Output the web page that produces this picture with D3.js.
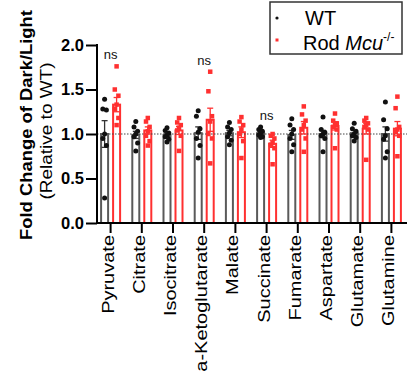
<!DOCTYPE html>
<html>
<head>
<meta charset="utf-8">
<script src="https://cdn.jsdelivr.net/npm/d3@7"></script>
<style>
  html, body { margin: 0; padding: 0; background: #fff; }
  svg { display: block; font-family: "Liberation Sans", Arial, sans-serif; }
</style>
</head>
<body>
<svg id="chart" width="409" height="375"></svg>
<script>
// ---------- data ----------
const categories = ["Pyruvate","Citrate","Isocitrate","a-Ketoglutarate","Malate","Succinate","Fumarate","Aspartate","Glutamate","Glutamine"];
const yTicks = [0, 0.5, 1.0, 1.5, 2.0];

const wtMean = [1.00, 0.99, 0.99, 1.01, 1.01, 1.01, 0.99, 1.00, 1.01, 1.00];
const wtSem  = [0.15, 0.04, 0.02, 0.07, 0.03, 0.02, 0.05, 0.04, 0.03, 0.08];
const wtPoints = [
  [1.39, 1.28, 1.27, 1.00, 0.95, 0.87, 0.28],
  [1.14, 1.08, 1.03, 1.00, 0.97, 0.90, 0.81],
  [1.07, 1.04, 1.01, 0.99, 0.97, 0.94, 0.91],
  [1.26, 1.20, 1.06, 1.02, 0.95, 0.87, 0.73],
  [1.13, 1.08, 1.05, 1.01, 0.97, 0.93, 0.88],
  [1.08, 1.05, 1.03, 1.01, 0.99, 0.97, 0.96],
  [1.17, 1.10, 1.05, 1.00, 0.95, 0.88, 0.80],
  [1.19, 1.05, 1.02, 1.00, 0.98, 0.95, 0.80],
  [1.12, 1.06, 1.03, 1.00, 0.98, 0.96, 0.92],
  [1.36, 1.16, 1.06, 0.98, 0.94, 0.80, 0.73]
];

const koMean = [1.33, 1.04, 1.04, 1.16, 1.02, 0.89, 1.07, 1.09, 1.06, 1.06];
const koSem  = [0.08, 0.04, 0.045, 0.13, 0.06, 0.04, 0.07, 0.045, 0.06, 0.08];
const koPoints = [
  [1.76, 1.50, 1.43, 1.33, 1.28, 1.18, 1.10],
  [1.18, 1.14, 1.08, 1.03, 0.98, 0.92, 0.87],
  [1.18, 1.13, 1.10, 1.07, 1.04, 0.98, 0.81],
  [1.70, 1.48, 1.20, 1.14, 1.00, 0.95, 0.67],
  [1.19, 1.14, 1.10, 1.05, 1.00, 0.92, 0.73],
  [1.00, 0.98, 0.95, 0.90, 0.88, 0.84, 0.66],
  [1.31, 1.22, 1.15, 1.10, 1.05, 0.95, 0.80],
  [1.23, 1.15, 1.12, 1.10, 1.08, 1.05, 0.84],
  [1.18, 1.15, 1.12, 1.10, 1.08, 1.05, 0.71],
  [1.42, 1.29, 1.08, 1.05, 1.02, 0.98, 0.75]
];

const nsCategories = ["Pyruvate", "a-Ketoglutarate", "Succinate"];
const legendLabels = ["WT", "Rod "];

// ---------- layout ----------
const svg = d3.select("#chart");
const FONT = '"Liberation Sans", Arial, sans-serif';
const wtColor = "#5a5a5a";
const koColor = "#ff3030";

const x = d3.scaleBand().domain(categories).range([95, 407]).padding(0);
const y = d3.scaleLinear().domain([0, 2]).range([223, 45]);
const axisLeftX = 97;
const barW = 7;
const offset = 6;

const g = svg.append("g");

// bars
function drawGroup(means, dx, color) {
  const grp = g.append("g");
  grp.selectAll("rect").data(categories).join("rect")
    .attr("x", d => x(d) + x.bandwidth() / 2 + dx - barW / 2)
    .attr("y", (d, i) => y(means[i]))
    .attr("width", barW)
    .attr("height", (d, i) => y(0) - y(means[i]))
    .attr("fill", "#fff")
    .attr("stroke", color)
    .attr("stroke-width", 2);
  return grp;
}
drawGroup(wtMean, -offset, wtColor);
drawGroup(koMean, offset, koColor);

// dotted reference line at 1.0
g.append("line")
  .attr("x1", axisLeftX).attr("x2", 407)
  .attr("y1", y(1)).attr("y2", y(1))
  .attr("stroke", "#444").attr("stroke-width", 1)
  .attr("stroke-dasharray", "1.5,1.5");

// error bars
function drawErr(means, sems, dx, color) {
  const eg = g.append("g").attr("stroke", color).attr("stroke-width", 1.3);
  categories.forEach((c, i) => {
    const cx = x(c) + x.bandwidth() / 2 + dx;
    const top = y(means[i] + sems[i]), bot = y(means[i] - sems[i]);
    eg.append("line").attr("x1", cx).attr("x2", cx).attr("y1", top).attr("y2", bot);
    eg.append("line").attr("x1", cx - 3).attr("x2", cx + 3).attr("y1", top).attr("y2", top);
    eg.append("line").attr("x1", cx - 3).attr("x2", cx + 3).attr("y1", bot).attr("y2", bot);
  });
}
drawErr(wtMean, wtSem, -offset, "#333");
drawErr(koMean, koSem, offset, koColor);

// points (small deterministic spread)
const spread = [0, -1.8, 1.8];
categories.forEach((c, i) => {
  const cxW = x(c) + x.bandwidth() / 2 - offset;
  g.append("g").selectAll("circle").data(wtPoints[i]).join("circle")
    .attr("cx", (v, j) => cxW + spread[j % 3])
    .attr("cy", v => y(v))
    .attr("r", 2.5)
    .attr("fill", "#111");
  const cxK = x(c) + x.bandwidth() / 2 + offset;
  g.append("g").selectAll("rect").data(koPoints[i]).join("rect")
    .attr("x", (v, j) => cxK + spread[j % 3] - 2.25)
    .attr("y", v => y(v) - 2.25)
    .attr("width", 4.5).attr("height", 4.5)
    .attr("fill", koColor);
});

// ns labels
nsCategories.forEach(c => {
  const i = categories.indexOf(c);
  const mx = d3.max(wtPoints[i].concat(koPoints[i]));
  g.append("text")
    .attr("x", x(c) + x.bandwidth() / 2)
    .attr("y", y(mx) - 7)
    .attr("text-anchor", "middle")
    .attr("font-size", 13)
    .attr("fill", "#111")
    .text("ns");
});

// y axis
const yAxis = d3.axisLeft(y).tickValues(yTicks).tickFormat(d3.format(".1f")).tickSize(11).tickPadding(2);
const ya = svg.append("g").attr("transform", `translate(${axisLeftX},0)`).call(yAxis);
ya.select(".domain").remove();
ya.selectAll(".tick line").attr("stroke", "#000").attr("stroke-width", 2);
ya.selectAll(".tick text").attr("font-family", FONT).attr("font-size", 16.5).attr("font-weight", "bold").attr("fill", "#000");
svg.append("line").attr("x1", axisLeftX).attr("x2", axisLeftX).attr("y1", y(2) - 1).attr("y2", y(0) + 1)
  .attr("stroke", "#000").attr("stroke-width", 2);

// x axis
const xAxis = d3.axisBottom(x).tickSize(10).tickFormat("");
const xa = svg.append("g").attr("transform", `translate(0,${y(0)})`).call(xAxis);
xa.select(".domain").remove();
xa.selectAll(".tick line").attr("stroke", "#000").attr("stroke-width", 2);
svg.append("line").attr("x1", axisLeftX - 1).attr("x2", 407).attr("y1", y(0)).attr("y2", y(0))
  .attr("stroke", "#000").attr("stroke-width", 2);

svg.append("g").selectAll("text").data(categories).join("text")
  .attr("transform", d => `translate(${x(d) + x.bandwidth() / 2 + 3},235) scale(0.84,1) rotate(-90)`)
  .attr("text-anchor", "end")
  .attr("font-size", 20)
  .attr("fill", "#000")
  .text(d => d);

// y axis titles
svg.append("text")
  .attr("transform", "translate(32,125) scale(0.9,1) rotate(-90)")
  .attr("text-anchor", "middle")
  .attr("font-size", 18.4).attr("font-weight", "bold").attr("fill", "#000")
  .text("Fold Change of Dark/Light");
svg.append("text")
  .attr("transform", "translate(52,131) scale(0.88,1) rotate(-90)")
  .attr("text-anchor", "middle")
  .attr("font-size", 19).attr("fill", "#000")
  .text("(Relative to WT)");

// legend
const lg = svg.append("g");
lg.append("rect").attr("x", 270).attr("y", 2).attr("width", 132).attr("height", 52)
  .attr("fill", "#fff").attr("stroke", "#333").attr("stroke-width", 1.5);
lg.append("circle").attr("cx", 277).attr("cy", 18).attr("r", 1.6).attr("fill", "#111");
lg.append("rect").attr("x", 275.5).attr("y", 38.5).attr("width", 3).attr("height", 3).attr("fill", koColor);
lg.append("text").attr("x", 305).attr("y", 25).attr("font-size", 20).attr("fill", "#000").text(legendLabels[0]);
const t2 = lg.append("text").attr("x", 303).attr("y", 50).attr("font-size", 20).attr("fill", "#000");
t2.append("tspan").text(legendLabels[1]);
t2.append("tspan").attr("font-style", "italic").text("Mcu");
t2.append("tspan").attr("font-size", 12).attr("dy", -9).text("-/-");
</script>
</body>
</html>
